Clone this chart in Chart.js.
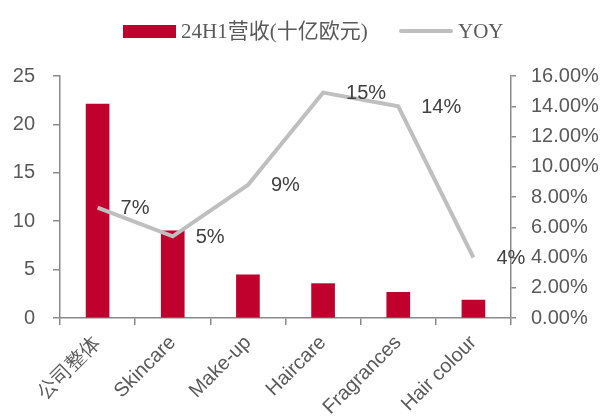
<!DOCTYPE html>
<html><head><meta charset="utf-8">
<script src="https://cdn.jsdelivr.net/npm/chart.js@4/dist/chart.umd.min.js"></script>
<style>html,body{margin:0;padding:0;background:#fff}#wrap{width:604px;height:420px}</style>
</head><body><div id="wrap"><canvas id="c" width="604" height="420"></canvas></div>
<script>
const categories = ['公司整体','Skincare','Make-up','Haircare','Fragrances','Hair colour'];
const revenue = [22.1, 9.0, 4.45, 3.55, 2.65, 1.85];
const yoy = [7.3, 5.4, 8.8, 14.9, 14.0, 4.0];
const yoyLabels = ['7%','5%','9%','15%','14%','4%'];
const seriesNames = ['24H1营收(十亿欧元)','YOY'];
const leftTicks = [0,5,10,15,20,25];
const rightTicks = [0,2,4,6,8,10,12,14,16];

const RED = '#C0002D', GRAY = '#BFBFBF', AX = '#8A8A8A', TXT = '#595959';
const SANS = '"Liberation Sans", Arial, sans-serif';

const legendPlugin = {
  id: 'customLegend',
  afterDraw(chart) {
    const ctx = chart.ctx;
    ctx.save();
    ctx.fillStyle = RED;
    ctx.fillRect(123, 25, 53, 13);
    ctx.font = '21px "Liberation Serif", "Noto Sans CJK SC", serif';
    ctx.fillStyle = TXT;
    ctx.textBaseline = 'middle';
    ctx.textAlign = 'left';
    ctx.fillText(seriesNames[0], 181, 32);
    ctx.strokeStyle = GRAY;
    ctx.lineWidth = 4;
    ctx.lineCap = 'round';
    ctx.beginPath(); ctx.moveTo(401, 31); ctx.lineTo(451, 31); ctx.stroke();
    ctx.fillText(seriesNames[1], 458, 32);
    ctx.restore();
  }
};

const labelPlugin = {
  id: 'pointLabels',
  afterDatasetsDraw(chart) {
    const meta = chart.getDatasetMeta(1);
    const ctx = chart.ctx;
    ctx.save();
    ctx.font = '20px ' + SANS;
    ctx.fillStyle = '#404040';
    ctx.textAlign = 'left';
    ctx.textBaseline = 'middle';
    meta.data.forEach((pt, i) => {
      ctx.fillText(yoyLabels[i], pt.x + 23, pt.y + 1);
    });
    ctx.restore();
  }
};

new Chart(document.getElementById('c'), {
  data: {
    labels: categories,
    datasets: [
      { type: 'bar', label: seriesNames[0], data: revenue, backgroundColor: RED,
        barThickness: 23, yAxisID: 'y', order: 2 },
      { type: 'line', label: seriesNames[1], data: yoy, borderColor: GRAY, borderWidth: 4,
        pointRadius: 0, tension: 0, yAxisID: 'y1', order: 1 }
    ]
  },
  options: {
    responsive: false,
    animation: false,
    layout: { padding: { top: 76, left: 0, right: 0, bottom: 0 } },
    plugins: { legend: { display: false }, tooltip: { enabled: false } },
    scales: {
      x: {
        offset: true,
        grid: { display: true, drawOnChartArea: false, drawTicks: true, tickLength: 7, color: AX, lineWidth: 1.5, offset: true },
        border: { color: AX, width: 1.5 },
        ticks: { color: TXT, font: { size: 20, family: SANS }, minRotation: 45, maxRotation: 45, padding: 6, labelOffset: 0 },
        afterFit(s) { s.height = 102; }
      },
      y: {
        position: 'left', min: 0, max: 25,
        afterBuildTicks(s) { s.ticks = leftTicks.map(v => ({ value: v })); },
        grid: { display: true, drawOnChartArea: false, tickLength: 7, color: AX, lineWidth: 1.5 },
        border: { color: AX, width: 1.5 },
        ticks: { color: TXT, font: { size: 20, family: SANS }, padding: 18 },
        afterFit(s) { s.width = 60; }
      },
      y1: {
        position: 'right', min: 0, max: 16,
        afterBuildTicks(s) { s.ticks = rightTicks.map(v => ({ value: v })); },
        grid: { display: true, drawOnChartArea: false, tickLength: 5, color: AX, lineWidth: 1.5 },
        border: { color: AX, width: 1.5 },
        ticks: { color: TXT, font: { size: 20, family: SANS }, padding: 15, callback: v => v.toFixed(2) + '%' },
        afterFit(s) { s.width = 93; }
      }
    }
  },
  plugins: [legendPlugin, labelPlugin]
});
</script></body></html>
